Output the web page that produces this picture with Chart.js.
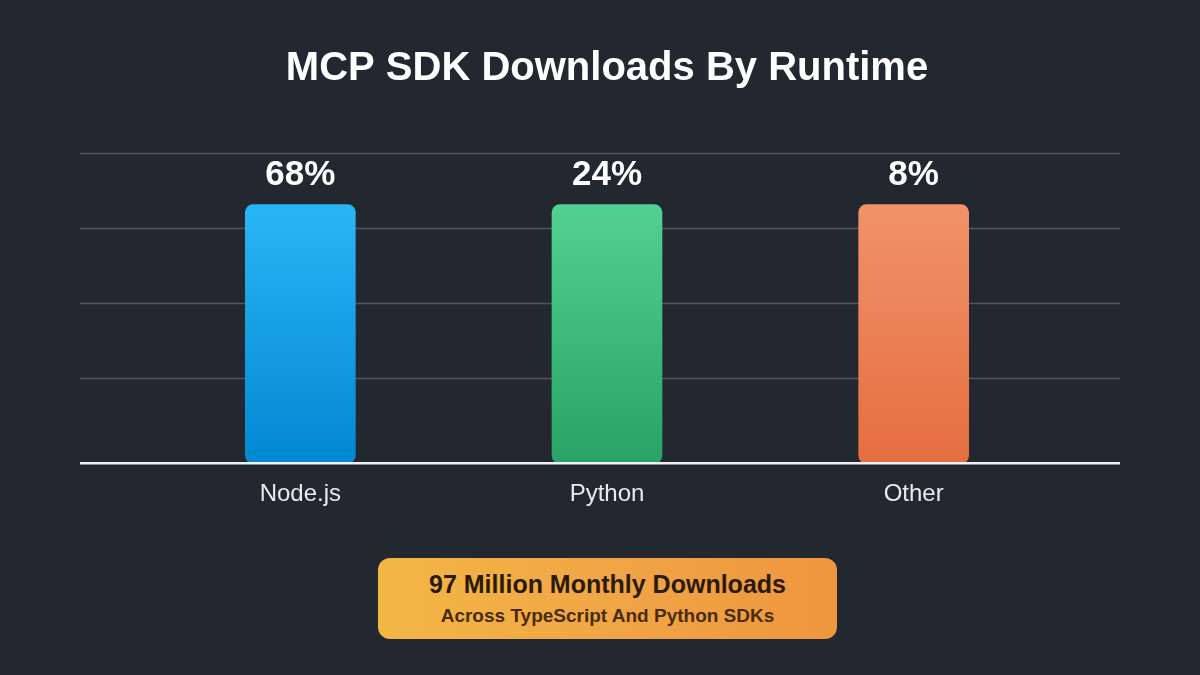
<!DOCTYPE html>
<html>
<head>
<meta charset="utf-8">
<script src="https://cdn.jsdelivr.net/npm/chart.js@4.4.1/dist/chart.umd.min.js"></script>
<style>
  html, body { margin: 0; padding: 0; background: #23272f; }
  #wrap { position: relative; width: 1200px; height: 675px; }
  #note {
    position: absolute; left: 378px; top: 558px; width: 459px; height: 81px;
    border-radius: 12px; box-sizing: border-box;
    background: linear-gradient(90deg, #f3b745 0%, #f0a445 55%, #ef963e 100%);
    font-family: "Liberation Sans", Arial, sans-serif; text-align: center;
  }
  #note .big { font-weight: bold; font-size: 25px; line-height: 29px; color: #2b1a08; margin-top: 12px; }
  #note .small { font-weight: bold; font-size: 19px; line-height: 22px; color: #4a2c0c; margin-top: 6px; }
</style>
</head>
<body>
<div id="wrap">
  <canvas id="myChart" width="1200" height="675"></canvas>
  <div id="note">
    <div class="big">97 Million Monthly Downloads</div>
    <div class="small">Across TypeScript And Python SDKs</div>
  </div>
</div>
<script>
// data
var runtimes = ['Node.js', 'Python', 'Other'];
var shares = [68, 24, 8];              // percent labels above the bars
var barHeights = [100, 100, 100];      // all bars drawn the same height
var gridTicks = [0, 33, 62, 91, 120];  // y grid lines (top is the axis max)

var topColors = ['#29b6f6', '#52d192', '#f1926a'];
var bottomColors = ['#0288d1', '#2aa265', '#e56e40'];

// grid lines run wider than the bars' category band
var gridLines = {
    id: 'gridLines',
    beforeDatasetsDraw: function (chart) {
        var c = chart.ctx, y = chart.scales.y;
        c.save();
        c.strokeStyle = 'rgba(255,255,255,0.22)';
        c.lineWidth = 1.5;
        gridTicks.forEach(function (t) {
            if (t === 0) return;
            var py = Math.round(y.getPixelForValue(t)) + 0.5;
            c.beginPath(); c.moveTo(80, py); c.lineTo(1120, py); c.stroke();
        });
        c.restore();
    },
    afterDatasetsDraw: function (chart) {
        var c = chart.ctx, y = chart.scales.y;
        var py = y.getPixelForValue(0);
        c.save();
        c.strokeStyle = '#eef0f3';
        c.lineWidth = 2.5;
        c.beginPath(); c.moveTo(80, py); c.lineTo(1120, py); c.stroke();

        // percent labels
        c.fillStyle = '#ffffff';
        c.font = 'bold 35px "Liberation Sans", Arial, sans-serif';
        c.textAlign = 'center';
        c.textBaseline = 'middle';
        chart.getDatasetMeta(0).data.forEach(function (bar, i) {
            c.fillText(shares[i] + '%', bar.x, bar.y - 29);
        });
        c.restore();
    }
};

var ctx = document.getElementById('myChart').getContext('2d');
var chart = new Chart(ctx, {
    type: 'bar',
    data: {
        labels: runtimes,
        datasets: [{
            data: barHeights,
            backgroundColor: function (context) {
                var area = context.chart.chartArea;
                if (!area) return topColors[context.dataIndex];
                var y = context.chart.scales.y;
                var g = context.chart.ctx.createLinearGradient(0, y.getPixelForValue(barHeights[context.dataIndex]), 0, y.getPixelForValue(0));
                g.addColorStop(0, topColors[context.dataIndex]);
                g.addColorStop(1, bottomColors[context.dataIndex]);
                return g;
            },
            borderRadius: 8,
            borderSkipped: false,
            barThickness: 110
        }]
    },
    options: {
        responsive: false,
        animation: false,
        layout: { padding: { left: 147, right: 133, top: 0, bottom: 149 } },
        plugins: {
            legend: { display: false },
            tooltip: { enabled: false },
            title: {
                display: true,
                text: 'MCP SDK Downloads By Runtime',
                color: '#ffffff',
                font: { family: '"Liberation Sans", Arial, sans-serif', size: 40, weight: 'bold' },
                padding: { top: 45, bottom: 60 }
            }
        },
        scales: {
            x: {
                grid: { display: false, drawTicks: false },
                border: { display: false },
                ticks: {
                    color: '#e8eaed',
                    padding: 17,
                    font: { family: '"Liberation Sans", Arial, sans-serif', size: 24 }
                }
            },
            y: {
                display: false,
                min: 0,
                max: 120,
                afterBuildTicks: function (axis) {
                    axis.ticks = gridTicks.map(function (v) { return { value: v }; });
                }
            }
        }
    },
    plugins: [gridLines]
});
</script>
</body>
</html>
